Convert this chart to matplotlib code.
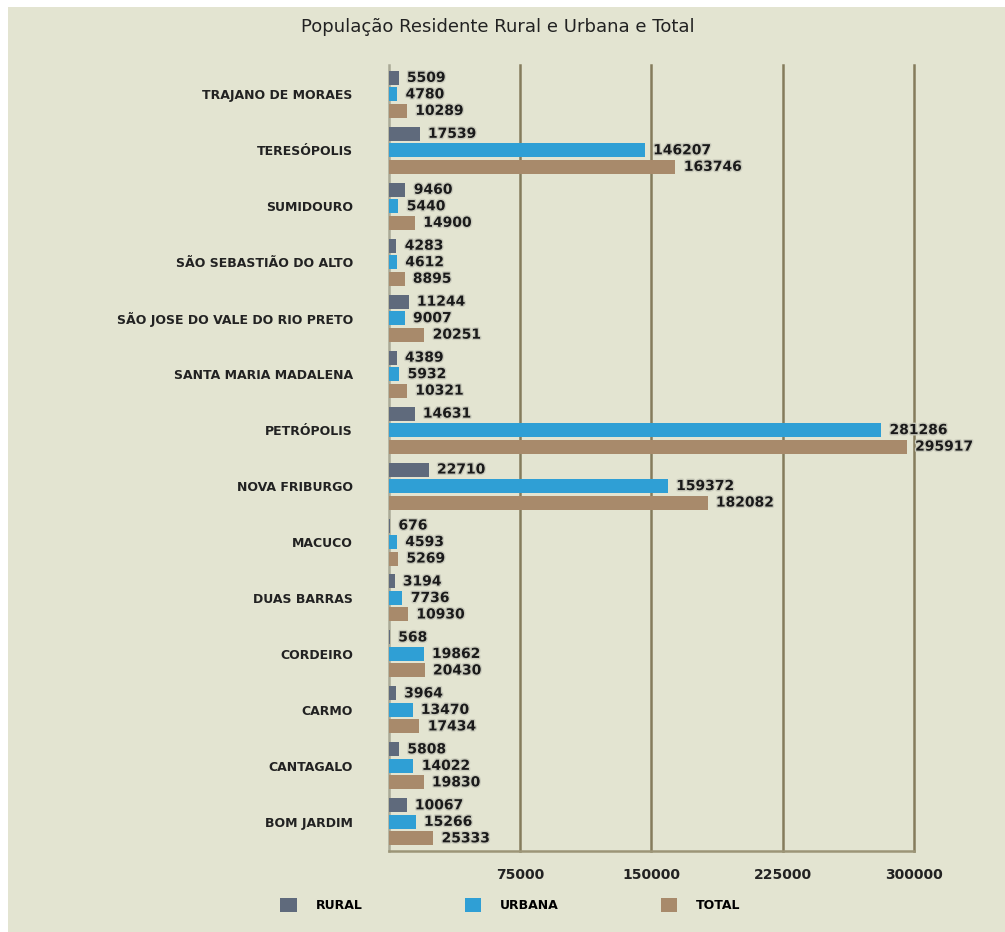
import numpy as np
import matplotlib.pyplot as plt
from matplotlib.patches import Patch, Rectangle
import matplotlib.patheffects as pe

municipios = ["Trajano de Moraes", "Teresópolis", "Sumidouro", "São Sebastião do Alto",
              "São Jose do Vale do rio Preto", "Santa Maria Madalena", "Petrópolis",
              "Nova Friburgo", "Macuco", "Duas Barras", "Cordeiro", "Carmo",
              "Cantagalo", "Bom Jardim"]
rural = [5509, 17539, 9460, 4283, 11244, 4389, 14631, 22710, 676, 3194, 568, 3964, 5808, 10067]
urbana = [4780, 146207, 5440, 4612, 9007, 5932, 281286, 159372, 4593, 7736, 19862, 13470, 14022, 15266]
total = [10289, 163746, 14900, 8895, 20251, 10321, 295917, 182082, 5269, 10930, 20430, 17434, 19830, 25333]
ticks = [75000, 150000, 225000, 300000]

fundo = "#e3e4d1"
cores = {"Rural": "#5f6a7c", "Urbana": "#2f9fd5", "Total": "#a88a6b"}

fig = plt.figure(figsize=(10.05, 9.32), dpi=100, facecolor="white")
fig.patches.append(Rectangle((0.008, 0), 0.992, 0.9925, transform=fig.transFigure,
                             facecolor=fundo, edgecolor="none", zorder=-10))
ax = fig.add_axes([0.387, 0.087, 0.5224, 0.843])
ax.set_facecolor("none")

n = len(municipios)
y = np.arange(n)[::-1]
h = 0.25
d = 0.295

series = [("Rural", rural, d), ("Urbana", urbana, 0), ("Total", total, -d)]
for nome, vals, off in series:
    ax.barh(y + off, vals, height=h, color=cores[nome], zorder=3)
    for yi, v in zip(y, vals):
        ax.annotate(str(v), (v, yi + off), xytext=(6, 0), textcoords="offset points",
                    va="center", ha="left", fontsize=10, fontweight="bold", color="#1a1a1a",
                    zorder=5,
                    path_effects=[pe.withStroke(linewidth=2, foreground="#c9cabb")])

ax.set_xlim(0, 300000)
ax.set_ylim(-0.52, n - 0.48)
ax.set_xticks(ticks)
ax.set_xticklabels([str(t) for t in ticks], fontsize=10, fontweight="bold", color="#222222")
ax.set_yticks(y)
ax.set_yticklabels([m.upper() for m in municipios], fontsize=9, fontweight="bold",
                   color="#222222")
ax.tick_params(axis="both", length=0)
ax.tick_params(axis="y", pad=26)
ax.tick_params(axis="x", pad=12)
ax.grid(axis="x", color="#857c5c", linewidth=1.8, zorder=1)
for linha in ax.get_xgridlines():
    linha.set_clip_on(False)
ax.spines["top"].set_visible(False)
ax.spines["right"].set_visible(False)
ax.spines["left"].set_color("#a9a996")
ax.spines["left"].set_linewidth(1.8)
ax.spines["bottom"].set_color("#9c9577")
ax.spines["bottom"].set_linewidth(1.8)

fig.text(0.495, 0.971, "População Residente Rural e Urbana e Total", ha="center", va="center",
         fontsize=13, color="#222222")

handles = [Patch(facecolor=cores[k], edgecolor="none") for k in ["Rural", "Urbana", "Total"]]
fig.legend(handles, ["RURAL", "URBANA", "TOTAL"], loc="center", bbox_to_anchor=(0.508, 0.029),
           ncol=3, frameon=False, prop={"weight": "bold", "size": 9},
           handlelength=1.3, handleheight=1.3, handletextpad=1.5, columnspacing=8.2)

fig.savefig("out.png", dpi=100, facecolor=fig.get_facecolor())
